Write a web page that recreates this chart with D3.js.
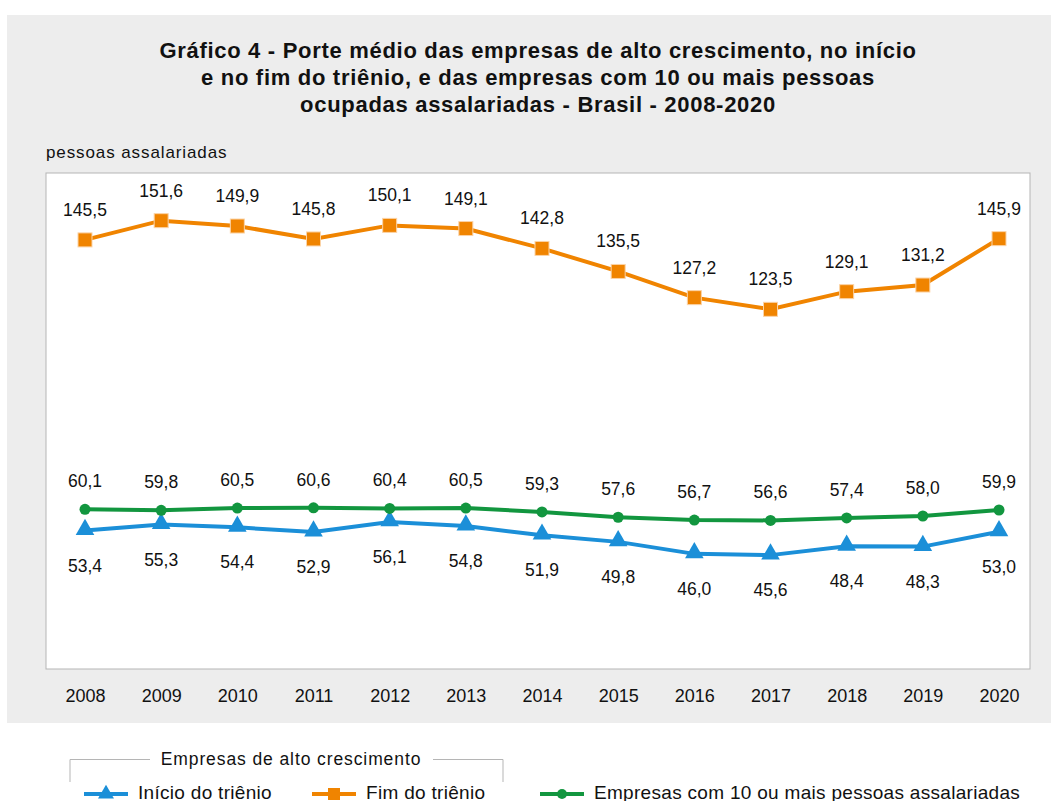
<!DOCTYPE html>
<html>
<head>
<meta charset="utf-8">
<script src="https://cdn.jsdelivr.net/npm/d3@7.9.0/dist/d3.min.js"></script>
<style>
  body { margin: 0; background: #fff; }
  svg { display: block; font-family: "Liberation Sans", Arial, sans-serif; }
</style>
</head>
<body>
<div id="chart"></div>
<script>
const years = ['2008','2009','2010','2011','2012','2013','2014','2015','2016','2017','2018','2019','2020'];
const inicio = [53.4, 55.3, 54.4, 52.9, 56.1, 54.8, 51.9, 49.8, 46.0, 45.6, 48.4, 48.3, 53.0];
const fim = [145.5, 151.6, 149.9, 145.8, 150.1, 149.1, 142.8, 135.5, 127.2, 123.5, 129.1, 131.2, 145.9];
const empresas10 = [60.1, 59.8, 60.5, 60.6, 60.4, 60.5, 59.3, 57.6, 56.7, 56.6, 57.4, 58.0, 59.9];

const titleLines = [
  'Gráfico 4 - Porte médio das empresas de alto crescimento, no início',
  'e no fim do triênio, e das empresas com 10 ou mais pessoas',
  'ocupadas assalariadas - Brasil - 2008-2020'
];

const colors = { blue: '#1b8fd8', orange: '#f08400', green: '#12963f' };

const width = 1051, height = 801;
const plot = { left: 46, top: 173, right: 1030, bottom: 669 };

const svg = d3.select('#chart').append('svg')
  .attr('width', width).attr('height', height);

// gray panel
svg.append('rect')
  .attr('x', 7).attr('y', 15).attr('width', width - 7).attr('height', 708)
  .attr('fill', '#ededed');

// plot box
svg.append('rect')
  .attr('x', plot.left).attr('y', plot.top)
  .attr('width', plot.right - plot.left).attr('height', plot.bottom - plot.top)
  .attr('fill', '#fff').attr('stroke', '#b5b5b5').attr('stroke-width', 1);

// title
svg.append('text')
  .attr('text-anchor', 'middle')
  .attr('font-weight', 'bold').attr('font-size', 22).attr('fill', '#111')
  .attr('letter-spacing', 0.7)
  .selectAll('tspan').data(titleLines).join('tspan')
  .attr('x', (plot.left + plot.right) / 2)
  .attr('y', (d, i) => 58 + i * 27)
  .text(d => d);

svg.append('text')
  .attr('x', plot.left).attr('y', 158)
  .attr('font-size', 17).attr('letter-spacing', 0.9).attr('fill', '#111')
  .text('pessoas assalariadas');

const xScale = d3.scalePoint().domain(years).range([85, 999]);
const yScale = d3.scaleLinear().domain([0, 170]).range([699, 162.6]);

// x axis (labels only)
const xAxis = svg.append('g')
  .attr('transform', `translate(0, ${plot.bottom})`)
  .call(d3.axisBottom(xScale).tickSize(0).tickPadding(20));
xAxis.select('.domain').remove();
xAxis.selectAll('text')
  .attr('font-size', 18).attr('fill', '#111')
  .attr('font-family', '"Liberation Sans", Arial, sans-serif')
  .attr('dy', '0.71em');

const series = [
  { key: 'inicio', values: inicio, color: colors.blue, marker: 'triangle', labelDy: 41 },
  { key: 'fim', values: fim, color: colors.orange, marker: 'square', labelDy: -24 },
  { key: 'emp10', values: empresas10, color: colors.green, marker: 'circle', labelDy: -22 }
];

const line = d3.line()
  .x((d, i) => xScale(years[i]))
  .y(d => yScale(d));

function drawMarker(g, type, color, x, y) {
  if (type === 'triangle') {
    g.append('path')
      .attr('d', d3.symbol(d3.symbolTriangle, 150)())
      .attr('transform', `translate(${x},${y - 1})`)
      .attr('fill', color);
  } else if (type === 'square') {
    g.append('rect')
      .attr('x', x - 7).attr('y', y - 7).attr('width', 14).attr('height', 14)
      .attr('fill', color).attr('stroke', '#fbd3a6').attr('stroke-width', 1);
  } else {
    g.append('circle')
      .attr('cx', x).attr('cy', y).attr('r', 5.5)
      .attr('fill', color);
  }
}

series.forEach(s => {
  const g = svg.append('g').attr('class', s.key);
  g.append('path')
    .datum(s.values)
    .attr('d', line)
    .attr('fill', 'none')
    .attr('stroke', s.color)
    .attr('stroke-width', 4);
  s.values.forEach((v, i) => drawMarker(g, s.marker, s.color, xScale(years[i]), yScale(v)));
  g.selectAll('text.lbl').data(s.values).join('text')
    .attr('class', 'lbl')
    .attr('x', (d, i) => xScale(years[i]))
    .attr('y', d => yScale(d) + s.labelDy)
    .attr('text-anchor', 'middle')
    .attr('font-size', 17.5).attr('fill', '#111')
    .text(d => d.toFixed(1).replace('.', ','));
});

// legend
const leg = svg.append('g').attr('class', 'legend');
leg.append('path')
  .attr('d', 'M70,782V759.5H150 M433,759.5H503V782')
  .attr('fill', 'none').attr('stroke', '#b5b5b5').attr('stroke-width', 1);
leg.append('text')
  .attr('x', 291).attr('y', 765)
  .attr('text-anchor', 'middle')
  .attr('font-size', 17.5).attr('letter-spacing', 0.9).attr('fill', '#111')
  .text('Empresas de alto crescimento');

const legendItems = [
  { label: 'Início do triênio', color: colors.blue, marker: 'triangle', x: 84 },
  { label: 'Fim do triênio', color: colors.orange, marker: 'square', x: 312 },
  { label: 'Empresas com 10 ou mais pessoas assalariadas', color: colors.green, marker: 'circle', x: 540 }
];
const ly = 794;
legendItems.forEach(it => {
  leg.append('line')
    .attr('x1', it.x).attr('x2', it.x + 44)
    .attr('y1', ly).attr('y2', ly)
    .attr('stroke', it.color).attr('stroke-width', 4);
  const mg = leg.append('g');
  if (it.marker === 'triangle') {
    mg.append('path').attr('d', d3.symbol(d3.symbolTriangle, 110)())
      .attr('transform', `translate(${it.x + 22},${ly})`).attr('fill', it.color);
  } else if (it.marker === 'square') {
    mg.append('rect').attr('x', it.x + 16).attr('y', ly - 6).attr('width', 12).attr('height', 12)
      .attr('fill', it.color);
  } else {
    mg.append('circle').attr('cx', it.x + 22).attr('cy', ly).attr('r', 5).attr('fill', it.color);
  }
  leg.append('text')
    .attr('x', it.x + 54).attr('y', ly + 5)
    .attr('font-size', 19).attr('letter-spacing', 0.3).attr('fill', '#111')
    .text(it.label);
});
</script>
</body>
</html>
